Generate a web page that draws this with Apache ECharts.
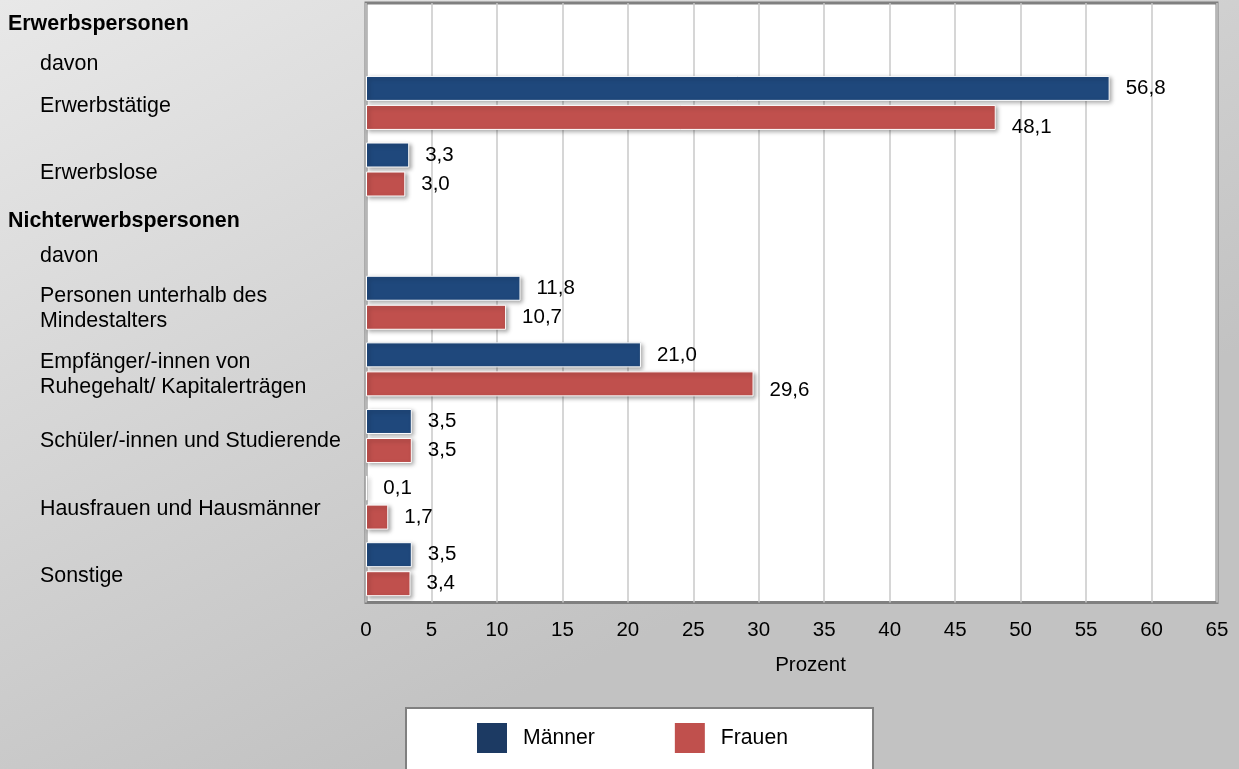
<!DOCTYPE html>
<html>
<head>
<meta charset="utf-8">
<script src="https://cdn.jsdelivr.net/npm/echarts@6/dist/echarts.min.js"></script>
<style>
html,body{margin:0;padding:0;}
#chart{width:1239px;height:769px;}
</style>
</head>
<body>
<div id="chart"></div>
<script>
// ---- data ----
const categories = [
  'Erwerbspersonen|davon',
  'Erwerbstätige',
  'Erwerbslose',
  'Nichterwerbspersonen|davon',
  'Personen unterhalb des\nMindestalters',
  'Empfänger/-innen von\nRuhegehalt/ Kapitalerträgen',
  'Schüler/-innen und Studierende',
  'Hausfrauen und Hausmänner',
  'Sonstige'
];
const maenner = [null, 56.8, 3.3, null, 11.8, 21.0, 3.5, 0.1, 3.5];
const frauen  = [null, 48.1, 3.0, null, 10.7, 29.6, 3.5, 1.7, 3.4];
const seriesNames = ['Männer', 'Frauen'];
const xTicks = {min: 0, max: 65, interval: 5};
const axisName = 'Prozent';

// ---- styles ----
const BLUE = '#1f487c';
const BLUE_LEGEND = '#1c3a63';
const RED = '#c0504d';
const FONT = '"Liberation Sans", Arial, sans-serif';
const FS = 21.4;
const labelNudgeFrauen = {1: 10, 5: 6};
const catLabelShift = [2, 3.5, 3.5, 2, 2, 1, 5.5, 6.5, 7];

function fmt(v) { return v.toFixed(1).replace('.', ','); }

function catLabel(value, idx) {
  if (value.indexOf('|') >= 0) {
    const parts = value.split('|');
    const k = idx === 0 ? '0' : '3';
    return '{h' + k + '|' + parts[0] + '}\n{d' + k + '|' + parts[1] + '}';
  }
  if (value.indexOf('\n') >= 0) {
    const lines = value.split('\n');
    return '{m1|' + lines[0] + '}\n{m2|' + lines[1] + '}';
  }
  return '{n|' + value + '}';
}

const barItemStyle = (color) => ({
  color: color,
  borderColor: '#ffffff',
  borderWidth: 1,
  shadowColor: 'rgba(0,0,0,0.35)',
  shadowBlur: 4,
  shadowOffsetX: 2,
  shadowOffsetY: 2
});

const txt = (extra) => Object.assign({fontSize: FS, fontFamily: FONT, color: '#000'}, extra);

const chart = echarts.init(document.getElementById('chart'), null, {renderer: 'canvas'});
const option = {
  backgroundColor: {
    type: 'linear', x: 0, y: 0, x2: 0.3, y2: 1,
    colorStops: [{offset: 0, color: '#e8e8e8'}, {offset: 1, color: '#c2c2c2'}]
  },
  textStyle: {fontFamily: FONT},
  animation: false,
  grid: {
    left: 366, right: 22, top: 3, bottom: 166.5,
    show: true, backgroundColor: '#ffffff', borderColor: '#808080', borderWidth: 3,
    containLabel: false, outerBoundsMode: 'none'
  },
  graphic: [{
    type: 'rect', z: 1,
    shape: {x: 406, y: 708, width: 467, height: 80},
    style: {fill: '#ffffff', stroke: '#808080', lineWidth: 2}
  }],
  legend: {
    z: 10,
    left: 472, top: 718,
    itemWidth: 30, itemHeight: 30, itemGap: 80,
    icon: 'rect',
    data: [
      {name: seriesNames[0], itemStyle: {color: BLUE_LEGEND}},
      {name: seriesNames[1], itemStyle: {color: RED}}
    ],
    itemStyle: {borderWidth: 0, shadowBlur: 0, shadowOffsetX: 0, shadowOffsetY: 0},
    textStyle: {fontSize: 21.2, color: '#000', fontFamily: FONT, padding: [0, 0, 0, 11]}
  },
  xAxis: {
    type: 'value',
    min: xTicks.min, max: xTicks.max, interval: xTicks.interval,
    name: axisName, nameLocation: 'middle', nameGap: 52,
    nameTextStyle: {fontSize: 20.5, color: '#000', fontFamily: FONT, padding: [0, 0, 0, 38]},
    axisLine: {show: false}, axisTick: {show: false},
    axisLabel: {fontSize: 20.5, color: '#000', margin: 17, fontFamily: FONT},
    splitLine: {show: true, lineStyle: {color: '#c8c8c8', width: 1.5}}
  },
  yAxis: {
    type: 'category', inverse: true,
    data: categories.map((c, i) => ({value: c, textStyle: {align: 'left', padding: [catLabelShift[i] * 2, 0, 0, 0]}})),
    axisLine: {show: false}, axisTick: {show: false}, splitLine: {show: false},
    axisLabel: {
      interval: 0, align: 'left', margin: 358, color: '#000', fontSize: FS, fontFamily: FONT,
      formatter: catLabel,
      rich: {
        h0: txt({fontWeight: 'bold', lineHeight: 51}),
        d0: txt({lineHeight: 29, padding: [0, 0, 0, 32]}),
        h3: txt({fontWeight: 'bold', lineHeight: 35}),
        d3: txt({lineHeight: 35, padding: [0, 0, 0, 32]}),
        m1: txt({lineHeight: 33, padding: [0, 0, 0, 32]}),
        m2: txt({lineHeight: 17, padding: [0, 0, 0, 32]}),
        n: txt({lineHeight: 24, padding: [0, 0, 0, 32]})
      }
    }
  },
  series: [
    {
      name: seriesNames[0], type: 'bar', data: maenner,
      barWidth: 25, barGap: '16%',
      itemStyle: barItemStyle(BLUE),
      label: {show: true, position: 'right', distance: 16, fontSize: 20.5, color: '#000', fontFamily: FONT,
        formatter: p => fmt(p.value)}
    },
    {
      name: seriesNames[1], type: 'bar',
      data: frauen.map((v, i) => labelNudgeFrauen[i] ? {value: v, label: {offset: [0, labelNudgeFrauen[i]]}} : v),
      barWidth: 25, barGap: '16%',
      itemStyle: barItemStyle(RED),
      label: {show: true, position: 'right', distance: 16, fontSize: 20.5, color: '#000', fontFamily: FONT,
        formatter: p => fmt(p.value)}
    }
  ]
};
chart.setOption(option);
</script>
</body>
</html>
